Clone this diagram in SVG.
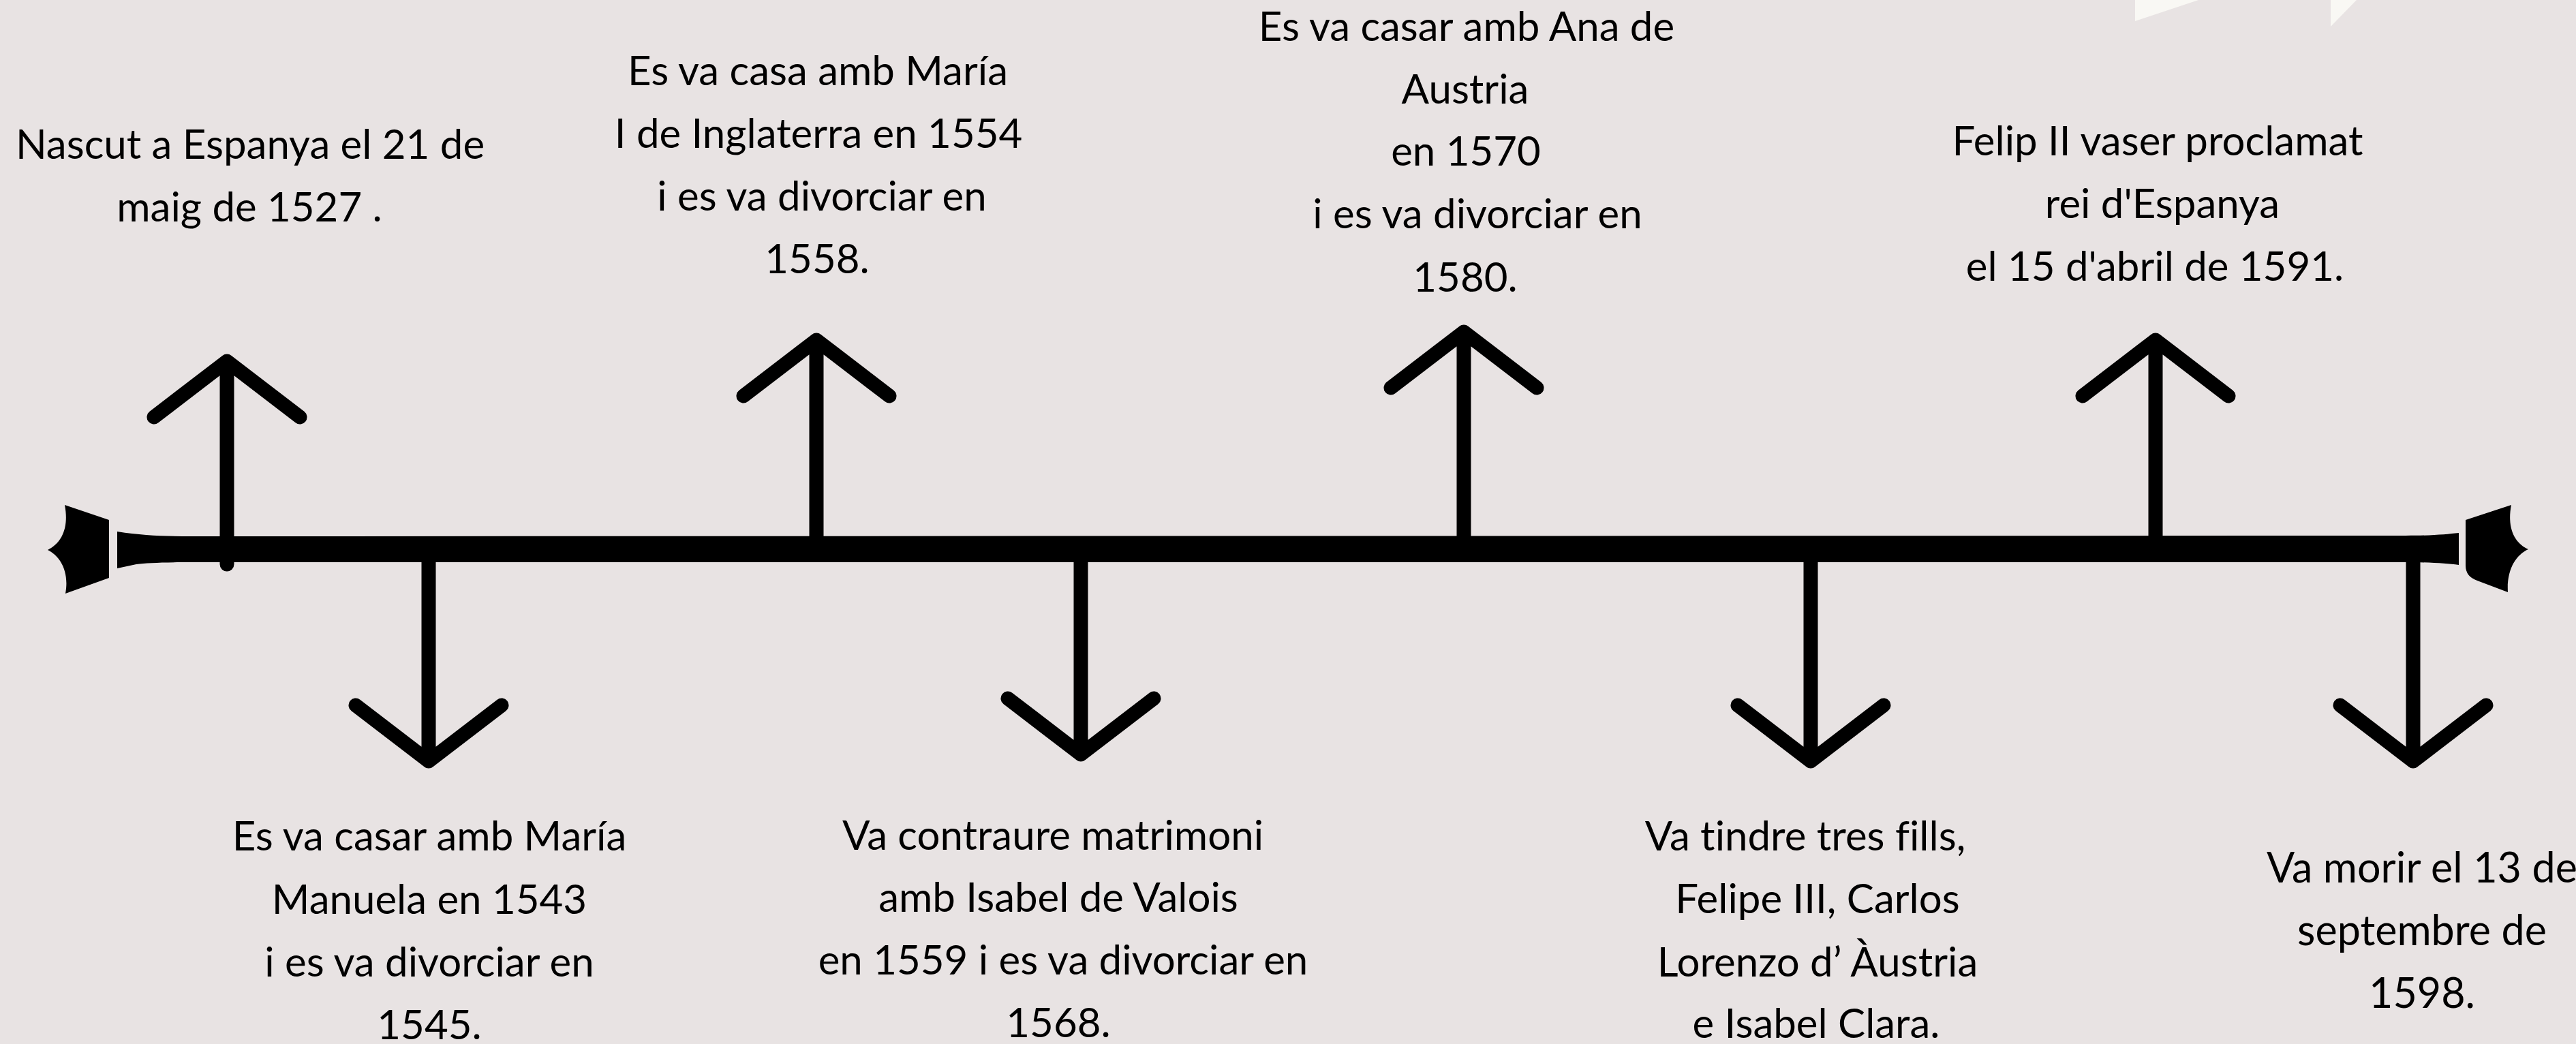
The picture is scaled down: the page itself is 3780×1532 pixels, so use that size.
<svg xmlns="http://www.w3.org/2000/svg" width="3780" height="1532" viewBox="0 0 3780 1532">
<style>
.bg{fill:#e8e3e3}
.deco{fill:#f9f8f4}
.ink{fill:#000}
.arr{fill:none;stroke:#000;stroke-width:21;stroke-linecap:round;stroke-linejoin:round}
.t{font-family:Lato,"Liberation Sans",sans-serif;font-size:60px;fill:#000;text-anchor:middle;font-variant-ligatures:none}
.t2{font-family:Lato,"Liberation Sans",sans-serif;font-size:61px;fill:#000;text-anchor:middle;font-variant-ligatures:none}
</style>
<rect class="bg" x="0" y="0" width="3780" height="1532"/>
<g id="decor">
<polygon class="deco" points="3133,0 3226,0 3133,31"/>
<polygon class="deco" points="3420,0 3458,0 3420,39"/>
</g>
<g id="timeline">
<path class="ink" d="M95,741 C102,778 88,798 70,807 C88,816 102,838 96,871 L160,848 L160,763 Z"/>
<path class="ink" d="M172,780 C210,786 240,787 280,787 L3530,786 C3570,786 3590,784 3608,782 L3608,829 C3590,827 3570,825 3530,825 L280,825 C240,825 215,826 200,828 L172,834 Z"/>
<path class="ink" d="M3618,763 L3685,741 C3678,778 3692,798 3710,806 C3692,814 3678,836 3680,869 L3635,852 Q3618,846 3618,830 Z"/>
</g>
<g id="connectors">
<path class="arr" d="M333,828 V530 M226,612 L333,530 L440,612"/>
<path class="arr" d="M1198,800 V499 M1091,581 L1198,499 L1305,581"/>
<path class="arr" d="M2148,800 V487 M2041,569 L2148,487 L2255,569"/>
<path class="arr" d="M3163,800 V499 M3056,581 L3163,499 L3270,581"/>
<path class="arr" d="M629,810 V1117 M522,1035 L629,1117 L736,1035"/>
<path class="arr" d="M1586,810 V1107 M1479,1025 L1586,1107 L1693,1025"/>
<path class="arr" d="M2657,810 V1117 M2550,1035 L2657,1117 L2764,1035"/>
<path class="arr" d="M3541,810 V1117 M3434,1035 L3541,1117 L3648,1035"/>
</g>
<g id="event-1527">
<text class="t"><tspan x="367" y="233">Nascut a Espanya el 21 de</tspan><tspan x="366" y="325">maig de 1527 .</tspan></text>
</g>
<g id="event-1543">
<text class="t"><tspan x="630" y="1248">Es va casar amb María</tspan><tspan x="630" y="1341">Manuela en 1543</tspan><tspan x="630" y="1433">i es va divorciar en</tspan><tspan x="630" y="1525">1545.</tspan></text>
</g>
<g id="event-1554">
<text class="t"><tspan x="1200" y="125">Es va casa amb María</tspan><tspan x="1201" y="217">I de Inglaterra en 1554</tspan><tspan x="1206" y="309">i es va divorciar en</tspan><tspan x="1199" y="401">1558.</tspan></text>
</g>
<g id="event-1559">
<text class="t"><tspan x="1545" y="1247">Va contraure matrimoni</tspan><tspan x="1553" y="1338">amb Isabel de Valois</tspan><tspan x="1560" y="1430">en 1559 i es va divorciar en</tspan><tspan x="1553" y="1522">1568.</tspan></text>
</g>
<g id="event-1570">
<text class="t"><tspan x="2152" y="60">Es va casar amb Ana de</tspan><tspan x="2150" y="152">Austria</tspan><tspan x="2151" y="243">en 1570</tspan><tspan x="2168" y="335">i es va divorciar en</tspan><tspan x="2150" y="428">1580.</tspan></text>
</g>
<g id="event-children">
<text class="t"><tspan x="2649" y="1248">Va tindre tres fills,</tspan><tspan x="2667" y="1340">Felipe III, Carlos</tspan><tspan x="2667" y="1433">Lorenzo d’ Àustria</tspan><tspan x="2665" y="1523">e Isabel Clara.</tspan></text>
</g>
<g id="event-1591">
<text class="t"><tspan x="3166" y="228">Felip II vaser proclamat</tspan><tspan x="3173" y="320">rei d'Espanya</tspan><tspan x="3162" y="412">el 15 d'abril de 1591.</tspan></text>
</g>
<g id="event-1598">
<text class="t2"><tspan x="3554" y="1295">Va morir el 13 de</tspan><tspan x="3554" y="1387">septembre de</tspan><tspan x="3554" y="1479">1598.</tspan></text>
</g>
</svg>
